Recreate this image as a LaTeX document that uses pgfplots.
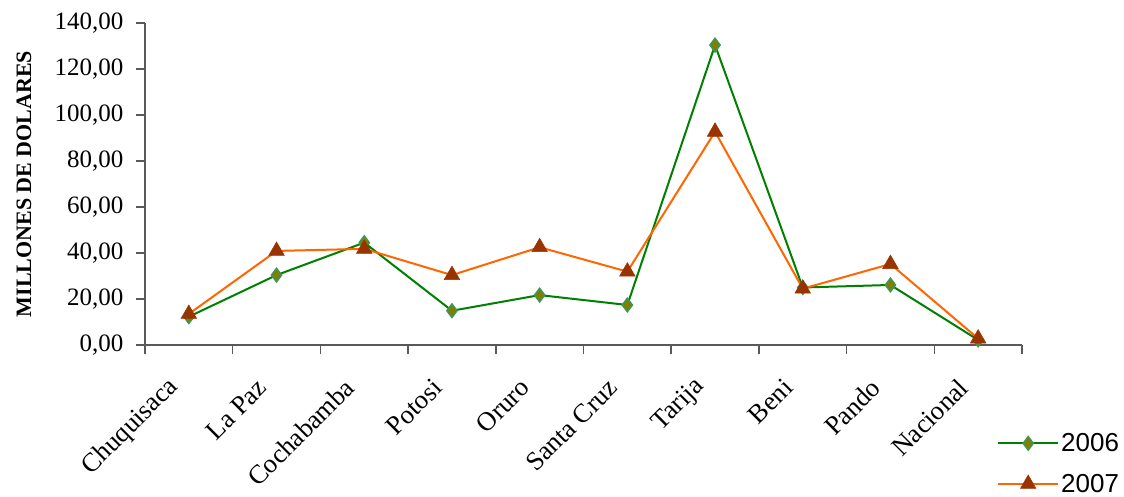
\documentclass[border=0pt]{standalone}
\usepackage{fontspec}
\setmainfont{Liberation Serif}
\newfontfamily\legfont{Liberation Sans}
\usepackage{pgfplots}
\pgfplotsset{compat=1.18}
\definecolor{g06}{HTML}{008000}
\definecolor{m06}{HTML}{808000}
\definecolor{e06}{HTML}{339966}
\definecolor{o07}{HTML}{FF6600}
\definecolor{m07}{HTML}{993300}
\definecolor{axc}{HTML}{595959}
\begin{document}
\begin{tikzpicture}
\begin{axis}[
  at={(0pt,0pt)}, anchor=south west,
  scale only axis, width=877pt, height=322pt,
  xmin=-0.5, xmax=9.5, ymin=0, ymax=140,
  axis x line*=bottom, axis y line*=left,
  axis line style={axc, line width=1.5pt},
  xtick={-0.5,0.5,1.5,2.5,3.5,4.5,5.5,6.5,7.5,8.5,9.5},
  xticklabels={},
  ytick={0,20,...,140},
  tick align=outside, major tick length=9pt,
  tick style={axc, line width=1.5pt},
  extra x ticks={0,1,2,3,4,5,6,7,8,9},
  extra x tick labels={Chuquisaca,La Paz,Cochabamba,Potosi,Oruro,Santa Cruz,Tarija,Beni,Pando,Nacional},
  extra x tick style={major tick length=0pt,
    xticklabel style={font=\fontsize{26.5}{26.5}\selectfont, xshift=-12pt, yshift=-36pt, rotate=45, anchor=east}},
  yticklabel style={font=\fontsize{25}{25}\selectfont, xshift=-9pt, /pgf/number format/.cd, fixed, fixed zerofill, precision=2, use comma, assume math mode=true},
  ylabel={\bfseries MILLONES DE DOLARES},
  ylabel style={font=\fontsize{22}{22}\selectfont, at={(axis description cs:-0.138,0.5)}, anchor=center},
  legend style={at={(axis description cs:0.9715,-0.268)}, anchor=north west, draw=none, fill=none,
    font=\legfont\fontsize{26}{26}\selectfont, row sep=17pt, inner sep=0pt},
  legend cell align=left,
  legend image code/.code={\draw[mark repeat=2,mark phase=2,#1] plot coordinates {(0pt,0pt) (30pt,0pt) (60pt,0pt)};},
]
\addplot[g06, line width=2pt, mark=diamond*, mark size=7pt, mark options={fill=m06, draw=e06, line width=1.2pt}]
  coordinates {(0,12.3) (1,30.4) (2,44.5) (3,14.9) (4,21.7) (5,17.4) (6,130.4) (7,25.0) (8,26.1) (9,2.2)};
\addlegendentry{2006}
\addplot[o07, line width=2pt, mark=triangle*, mark size=9pt, mark options={fill=m07, draw=m07, line width=0.5pt}]
  coordinates {(0,13.5) (1,40.9) (2,41.8) (3,30.4) (4,42.5) (5,31.9) (6,92.7) (7,24.5) (8,35.2) (9,2.8)};
\addlegendentry{2007}
\end{axis}
\pgfresetboundingbox
\useasboundingbox (-145pt,-152pt) rectangle (979pt,345pt);
\end{tikzpicture}
\end{document}
